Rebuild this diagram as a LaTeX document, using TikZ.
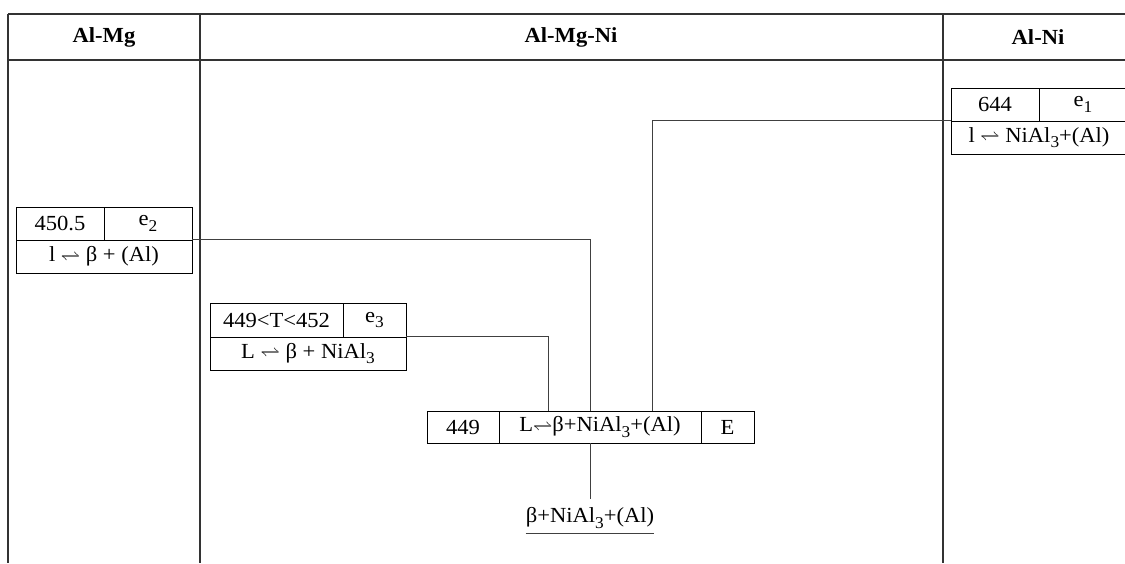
\documentclass[tikz,border=0pt]{standalone}
\usepackage{fontspec}
\usepackage{graphicx}
\setmainfont{Liberation Serif}[FakeStretch=1.05]
\newcommand{\eqm}{\raisebox{0.1ex}{\scalebox{0.95}[0.7]{$\rightleftharpoons$}}}
\newcommand{\subs}[1]{\raisebox{-0.55ex}{\fontsize{16.5}{16.5}\selectfont #1}}
\begin{document}
\begin{tikzpicture}[x=1pt,y=-1pt,
  every node/.style={font=\fontsize{21.5}{25}\selectfont},
  tbl/.style={line width=1.4pt, draw=black!80},
  cell/.style={draw=black, line width=0.9pt, inner sep=0pt, rectangle},
  conn/.style={draw=black!75, line width=0.9pt},
  hdr/.style={font=\fontsize{21.5}{25}\selectfont\bfseries}]
\useasboundingbox (0,0) rectangle (1125,563);
% table frame
\draw[tbl] (8,14) -- (1125,14);
\draw[tbl] (8,60) -- (1125,60);
\draw[tbl] (8,14) -- (8,563);
\draw[tbl] (200,14) -- (200,563);
\draw[tbl] (943,14) -- (943,563);
% headers
\node[hdr] (hAlMg) at (104,37) {Al-Mg};
\node[hdr] (hAlMgNi) at (571,37) {Al-Mg-Ni};
\node[hdr] (hAlNi) at (1038,37) {Al-Ni};
% e2 box
\node[cell, minimum width=88pt, minimum height=33pt] (e2t) at (60,223.5) {450.5};
\node[cell, minimum width=88pt, minimum height=33pt] (e2n) at (148,223.5) {e\subs{2}};
\node[cell, minimum width=176pt, minimum height=33pt] (e2b) at (104,256.5) {l \eqm{} β + (Al)};
% e3 box
\node[cell, minimum width=133pt, minimum height=34pt] (e3t) at (276.5,320) {449<T<452};
\node[cell, minimum width=63pt, minimum height=34pt] (e3n) at (374.5,320) {e\subs{3}};
\node[cell, minimum width=196pt, minimum height=33pt] (e3b) at (308,353.5) {L \eqm{} β + NiAl\subs{3}};
% e1 box
\node[cell, minimum width=88pt, minimum height=33pt] (e1t) at (995,104.5) {644};
\node[cell, minimum width=88pt, minimum height=33pt] (e1n) at (1083,104.5) {e\subs{1}};
\node[cell, minimum width=176pt, minimum height=33pt] (e1b) at (1039,137.5) {l \eqm{} NiAl\subs{3}+(Al)};
% E box
\node[cell, minimum width=72pt, minimum height=32pt] (Et) at (463,427) {449};
\node[cell, minimum width=202pt, minimum height=32pt] (Em) at (600,427) {L\eqm{}β+NiAl\subs{3}+(Al)};
\node[cell, minimum width=53pt, minimum height=32pt] (En) at (727.5,427) {E};
% product
\node[inner sep=0pt] (prod) at (590,518) {β+NiAl\subs{3}+(Al)};
\draw[line width=0.9pt, draw=black!75] ([yshift=-5pt]prod.south west) -- ([yshift=-5pt]prod.south east);
% connectors
\draw[conn] (e2b.north east) -| ([xshift=-10pt]Em.north);
\draw[conn] (e3b.north east) -| ([xshift=-52pt]Em.north);
\draw[conn] (e1b.north west) -| ([xshift=52pt]Em.north);
\draw[conn] ([xshift=-10pt]Em.south) -- ([yshift=-56pt]Em.south -| prod.north);
\end{tikzpicture}
\end{document}
